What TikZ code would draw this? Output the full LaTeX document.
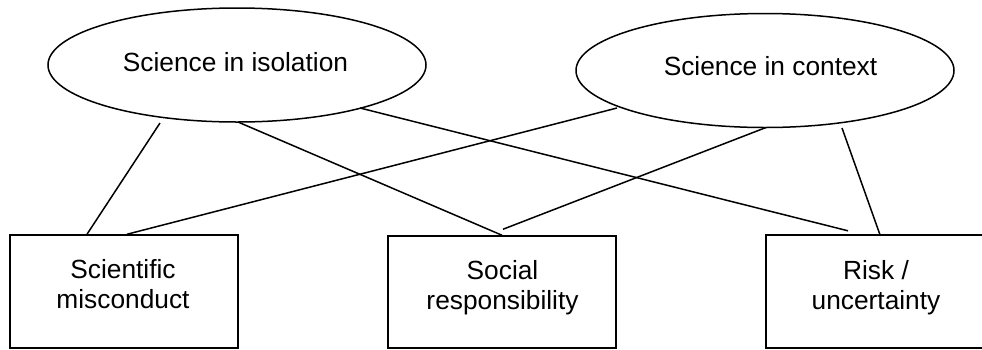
\documentclass[tikz,border=0pt]{standalone}
\usepackage{fontspec}
\setmainfont{Liberation Sans}
\usetikzlibrary{shapes.geometric,calc}
\begin{document}
\begin{tikzpicture}[x=1pt,y=-1pt,
  oval/.style={draw,ellipse,line width=1.5pt,minimum width=378pt,minimum height=114pt,inner sep=0pt},
  box/.style={draw,rectangle,line width=1.5pt,inner sep=0pt},
  lbl/.style={font=\fontsize{26.3}{30}\selectfont,align=center,inner sep=0pt},
  link/.style={line width=1.5pt}]
\useasboundingbox (0,0) rectangle (982,349);
% ovals
\node[oval] (e1) at (237,65) {};
\node[oval] (e2) at (765,70.5) {};
\node[lbl] (t1) at (235.5,62.5) {Science in isolation};
\node[lbl] (t2) at (770.5,66) {Science in context};
% boxes
\node[box,minimum width=228pt,minimum height=113pt] (b1) at (124,291.5) {};
\node[box,minimum width=228pt,minimum height=112pt] (b2) at (502,292) {};
\node[rectangle,inner sep=0pt,minimum width=250pt,minimum height=113pt] (b3) at (891,291.5) {};
\draw[link] (b3.north east) -- (b3.north west) -- (b3.south west) -- (b3.south east);
\node[lbl,anchor=north] (m1) at ($(b1.north)+(-1,25)$) {Scientific\\misconduct};
\node[lbl,anchor=north] (m2) at ($(b2.north)+(0.5,25)$) {Social\\responsibility};
\node[lbl,anchor=north] (m3) at ($(b3.north)+(-15,25)$) {Risk /\\uncertainty};
% connectors
\draw[link] ($(e1.center)+(-77,58)$) -- ($(b1.north)+(-37,0)$);
\draw[link] ($(e1.center)+(1,57)$) -- (b2.north);
\draw[link] ($(e1.center)+(123,43)$) -- ($(b3.north)+(-43,-4)$);
\draw[link] ($(e2.center)+(-148,37.5)$) -- ($(b1.north)+(3,0)$);
\draw[link] ($(e2.center)+(1,57)$) -- ($(b2.north)+(1,-6)$);
\draw[link] ($(e2.center)+(77,57.5)$) -- ($(b3.north)+(-11,0)$);
\end{tikzpicture}
\end{document}
